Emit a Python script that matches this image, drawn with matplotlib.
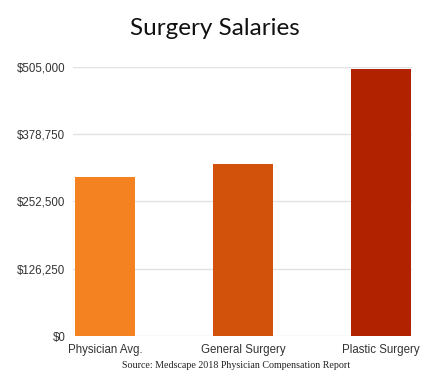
import matplotlib
matplotlib.use("Agg")
import matplotlib.pyplot as plt
from matplotlib.ticker import FuncFormatter

# data
categories = ["Physician Avg.", "General Surgery", "Plastic Surgery"]
salaries = [299000, 322000, 501000]
bar_colors = ["#F58220", "#D2520C", "#B02200"]
yticks = [0, 126250, 252500, 378750, 505000]

fig = plt.figure(figsize=(4.29, 3.86), dpi=100)
ax = fig.add_axes([0.170, 0.1295, 0.790, 0.697])

ax.bar(range(len(categories)), salaries, width=0.435, color=bar_colors, zorder=3)

ax.set_xlim(-0.232, 2.225)
ax.set_ylim(0, 505000)
ax.set_yticks(yticks)
ax.yaxis.set_major_formatter(FuncFormatter(lambda v, _: "${:,.0f}".format(v)))
ax.set_xticks(range(len(categories)))
ax.set_xticklabels(categories)

ax.grid(axis="y", color="#e2e2e2", linewidth=1, zorder=0)
for s in ax.spines.values():
    s.set_visible(False)
ax.tick_params(axis="both", length=0, labelsize=8.3, colors="#333333")
ax.tick_params(axis="y", pad=5.5)
ax.tick_params(axis="x", pad=6)
for lab in ax.get_xticklabels() + ax.get_yticklabels():
    lab.set_family("Liberation Sans")

fig.text(0.5, 0.925, "Surgery Salaries", ha="center", va="center",
         fontsize=17.5, family="Lato", color="#111111")
fig.text(0.551, 0.054, "Source: Medscape 2018 Physician Compensation Report",
         ha="center", va="center", fontsize=7.2, family="Liberation Serif", color="#222222")

fig.savefig("out.png", dpi=100)
